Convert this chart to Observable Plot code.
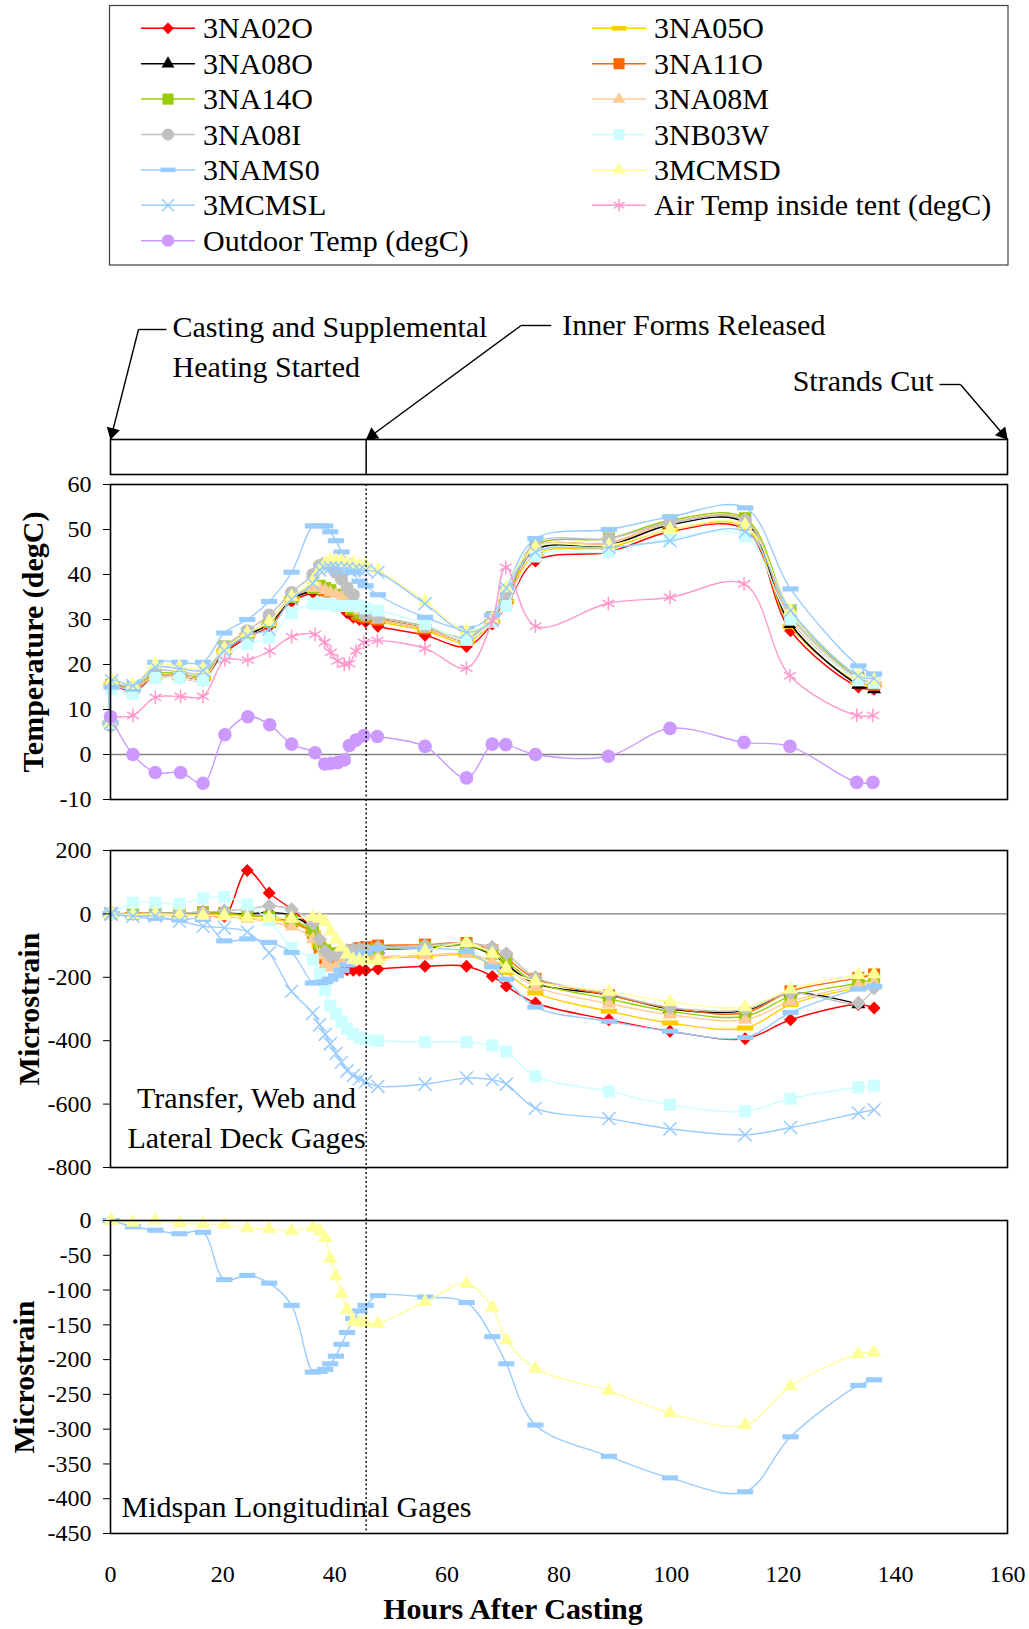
<!DOCTYPE html>
<html>
<head>
<meta charset="utf-8">
<script src="https://cdn.jsdelivr.net/npm/d3@7"></script>
<script src="https://cdn.jsdelivr.net/npm/@observablehq/plot@0.6"></script>
<style>
  html, body { margin:0; padding:0; background:#fff; }
  #root { position:relative; width:1029px; height:1629px; overflow:hidden; font-family:"Liberation Serif","Times New Roman",serif; }
  #root > svg { position:absolute; left:0; }
</style>
</head>
<body>
<div id="root"></div>
<script>
// ---------------- DATA ----------------
// gauge reading times (hours after casting)
const G_TIME = [0, 0.2, 4, 8, 12.3, 16.5, 20.3, 24.4, 28.3, 32.3, 36.1, 37.3, 38.3, 39.2, 40.2, 41.2, 42.2, 43.3, 44.4, 45.5, 47.7, 56.1, 63.5, 68.1, 70.6, 75.8, 88.9, 99.8, 113.2, 121.3, 133.4, 136.2];
// ambient reading times
const A_TIME = [0, 4, 8, 12.5, 16.5, 20.4, 24.5, 28.4, 32.3, 36.5, 38.2, 39.3, 40.5, 41.7, 42.6, 43.8, 45.2, 47.6, 56.1, 63.5, 68.1, 70.5, 75.8, 88.8, 99.8, 113, 121.2, 133.1, 136];

// temperatures (degC)
const T_3NA02O = [7, 15, 14, 17, 17, 16.5, 22.5, 26, 28.5, 34, 36, 36.5, 36, 35, 34, 33, 31.5, 30.5, 30, 29.5, 28.5, 26.5, 24, 29, 33, 43, 45, 49.5, 50, 27.5, 15, 14.5];
const T_3NA05O = [7, 15.5, 14.5, 17.5, 17.5, 17, 23, 26.5, 29, 34.5, 36.5, 36.5, 36, 35.5, 34.5, 33.5, 32.5, 31.5, 30.5, 30, 29.5, 27.5, 25, 29.5, 34, 44.5, 46, 50, 50.5, 28.5, 16, 15.5];
const T_3NA08O = [7, 15.5, 14.5, 17.5, 17.5, 17, 23, 26.5, 29, 34.5, 36.5, 37, 36.5, 35.5, 35, 34, 33, 31.5, 31, 30.5, 30, 28, 25.5, 30, 34.5, 45.5, 46.5, 51, 51.5, 29, 15.5, 14.5];
const T_3NA11O = [7, 15.5, 14.5, 17.5, 17.5, 17, 23.5, 27, 29.5, 35, 37, 37, 36.5, 36, 35, 34, 33, 32, 31, 30.5, 30, 28, 25.5, 30, 34.5, 46, 47, 51.5, 52, 30, 16.5, 15.5];
const T_3NA14O = [7, 15.5, 15, 18, 18, 17.5, 24, 27, 29.5, 35, 37, 37.5, 37, 36.5, 35.5, 34.5, 33.5, 32.5, 31.5, 31, 30.5, 28.5, 26, 30.5, 35, 46.5, 48, 52, 52.5, 32, 17, 16];
const T_3NA08M = [7, 15, 14.5, 17.5, 17.5, 17, 23.5, 27, 29.5, 35, 37, 37, 36.5, 36, 35.5, 35, 34, 33, 32, 31, 30, 28, 25.5, 30, 33.5, 46, 47, 51.5, 52, 30.5, 16.5, 15.5];
const T_3NA08I = [6.5, 15.5, 15, 18.5, 18.5, 18, 24, 27.5, 31, 36, 40, 42, 42.5, 42, 40.5, 39, 37, 35.5, 33, 31, 30.5, 28.5, 26, 30.5, 35, 47, 48, 51.5, 52, 31, 17, 16];
const T_3NB03W = [7, 14.5, 13.5, 17, 17, 16.5, 22, 24.5, 26, 31.5, 33.5, 33.5, 33.5, 33.5, 33, 33, 33, 33, 33, 32.5, 32, 29, 25.5, 29.5, 33, 44, 45, 48, 48.5, 30, 16.5, 16];
const T_3NAMS0 = [7, 15, 14.5, 20.5, 20.5, 20.5, 27, 30, 34, 40.5, 50.8, 50.8, 50.8, 49.5, 47.5, 45, 43, 40.5, 38.5, 37.5, 35.5, 30.5, 28, 31, 37, 48, 50, 52.8, 54.8, 36.8, 19.7, 17.9];
const T_3MCMSD = [7, 16.5, 15.5, 20, 19.5, 19, 23.5, 27, 29.5, 35, 38.5, 41, 42.5, 43, 43, 43, 42.5, 42.5, 42, 42, 41, 34, 27.5, 30, 37, 46, 46.5, 50, 51, 32, 17.5, 16.5];
const T_3MCMSL = [7, 16.4, 15.3, 19.4, 19.1, 18.7, 23.1, 26.4, 27.9, 34.5, 38, 41, 41.3, 41.5, 41.5, 41.3, 41.3, 41, 41, 40.9, 40.5, 33.5, 27.2, 29.8, 37, 45, 46, 47.5, 49.5, 32, 17.5, 16.9];
const T_AIR = [8.5, 8.7, 12.7, 12.9, 12.9, 21, 21, 23, 26.2, 26.7, 24.9, 22.7, 20.8, 20.1, 20.2, 23, 24.9, 25.3, 23.6, 19.2, 29.7, 41.6, 28.5, 33.6, 34.9, 37.9, 17.5, 8.7, 8.7];
const T_OUTDOOR = [8.4, 0, -4, -4, -6.4, 4.4, 8.4, 6.6, 2.3, 0.4, -2.1, -2.0, -1.8, -1.2, 2.0, 3.2, 4.2, 4.0, 1.8, -5.2, 2.3, 2.2, 0, -0.4, 5.8, 2.7, 1.8, -6.2, -6.2];

// strains (microstrain); null = no reading
const S_3NA02O = [0, 0, 0, 0, 0, 2, -8, 137, 66, 14, -49, -90, -112, -144, -160, -170, -176, -178, -178, -178, -174, -165, -165, -197, -228, -281, -334, -370, -394, -334, -286, -297];
const S_3NA05O = [0, 0, -2, -2, -3, -3, -5, -10, -15, -30, -60, -100, -130, -145, -150, -150, -150, -148, -146, -145, -140, -135, -130, -160, -185, -249, -307, -344, -360, -286, -234, -230];
const S_3NA08O = [0, 0, 0, 2, 2, 3, 3, 0, 5, -5, -50, -100, -125, -135, -130, -125, -120, -118, -116, -115, -112, -108, -100, -130, -160, -220, -255, -300, -305, -250, -285, null];
const S_3NA11O = [0, 0, 2, 3, 3, 5, 3, -5, -10, -25, -60, -110, -140, -150, -145, -135, -125, -115, -108, -105, -100, -97, -92, -115, -140, -205, -257, -297, -312, -244, -202, -191];
const S_3NA14O = [0, 0, 0, 2, 2, 3, 2, -5, -10, -20, -55, -95, -115, -125, -125, -122, -120, -118, -116, -115, -112, -105, -100, -125, -150, -215, -268, -307, -323, -260, -218, -205];
const S_3NA08M = [0, 0, -2, -3, -5, -5, -8, -15, -25, -40, -80, -130, -160, -170, -165, -155, -150, -145, -140, -138, -135, -130, -125, -150, -170, -230, -283, -318, -334, -276, -225, -215];
const S_3NA08I = [0, 0, 0, 2, 3, 5, 10, 15, 25, 14, -30, -80, -118, -134, -130, -122, -115, -112, -110, -108, -105, -100, -92, -105, -125, -200, -252, -295, -302, -249, -281, -234];
const S_3NB03W = [0, 0, 35, 35, 32, 49, 53, 30, -20, -107, -144, -190, -240, -290, -315, -340, -362, -380, -390, -397, -400, -404, -404, -415, -434, -512, -560, -602, -623, -583, -547, -542];
const S_3NAMS0 = [0, 0, -9, -14, -19, -17, -85, -79, -90, -122, -218, -217, -214, -206, -195, -178, -161, -141, -130, -122, -108, -110, -118, -167, -206, -294, -339, -370, -390, -311, -237, -229];
const S_3MCMSD = [0, 0, -3, 0, -4, -5, -6, -11, -12, -15, -10, -15, -25, -55, -80, -105, -128, -145, -146, -147, -148, -117, -91, -125, -172, -213, -245, -277, -294, -238, -192, -190];
const S_3MCMSL = [0, 0, -7, -7, -23, -39, -44, -57, -123, -244, -313, -350, -380, -410, -440, -468, -495, -510, -520, -530, -544, -537, -518, -523, -537, -613, -646, -678, -697, -674, -628, -618];

// axis ticks
const X_TICKS = [0, 20, 40, 60, 80, 100, 120, 140, 160];
const T_TICKS = [-10, 0, 10, 20, 30, 40, 50, 60];
const S2_TICKS = [-800, -600, -400, -200, 0, 200];
const S3_TICKS = [-450, -400, -350, -300, -250, -200, -150, -100, -50, 0];

// events
const EVENT_LABELS = ["Casting and Supplemental\nHeating Started", "Inner Forms Released", "Strands Cut"];
const EVENT_HOURS = [0, 45.6, 160];

// ---------------- STYLES ----------------
const DASH = { draw(ctx, size) { const s = Math.sqrt(size); const w = s * 0.95, h = s * 0.3;
  ctx.moveTo(-w, -h); ctx.lineTo(w, -h); ctx.lineTo(w, h); ctx.lineTo(-w, h); ctx.closePath(); } };

const AIR = "Air Temp inside tent (degC)", OUT = "Outdoor Temp (degC)";
const STYLE = {
  "3NA02O": {color: "#FF0000", symbol: "diamond2", r: 5.8},
  "3NA05O": {color: "#FFCC00", symbol: DASH, r: 4.8},
  "3NA08O": {color: "#000000", symbol: "triangle", r: 5.2},
  "3NA11O": {color: "#FF6600", symbol: "square", r: 6.8},
  "3NA14O": {color: "#99CC00", symbol: "square", r: 6.8},
  "3NA08M": {color: "#FFCC99", symbol: "triangle", r: 5.2},
  "3NA08I": {color: "#C0C0C0", symbol: "circle", r: 6.6},
  "3NB03W": {color: "#CCFFFF", symbol: "square", r: 6.8},
  "3NAMS0": {color: "#99CCFF", symbol: DASH, r: 4.8},
  "3MCMSD": {color: "#FFFF99", symbol: "triangle", r: 5.4},
  "3MCMSL": {color: "#99CCFF", symbol: "times", r: 6, stroked: true},
  [AIR]:    {color: "#FF99CC", symbol: "asterisk", r: 6.5, stroked: true},
  [OUT]:    {color: "#CC99FF", symbol: "circle", r: 6.8}
};
const ORDER = ["3NA02O","3NA05O","3NA08O","3NA11O","3NA14O","3NA08M","3NA08I","3NB03W","3NAMS0","3MCMSD","3MCMSL", AIR, OUT];

const TEMP = {"3NA02O":T_3NA02O,"3NA05O":T_3NA05O,"3NA08O":T_3NA08O,"3NA11O":T_3NA11O,"3NA14O":T_3NA14O,"3NA08M":T_3NA08M,"3NA08I":T_3NA08I,"3NB03W":T_3NB03W,"3NAMS0":T_3NAMS0,"3MCMSD":T_3MCMSD,"3MCMSL":T_3MCMSL};
const STRAIN = {"3NA02O":S_3NA02O,"3NA05O":S_3NA05O,"3NA08O":S_3NA08O,"3NA11O":S_3NA11O,"3NA14O":S_3NA14O,"3NA08M":S_3NA08M,"3NA08I":S_3NA08I,"3NB03W":S_3NB03W,"3NAMS0":S_3NAMS0,"3MCMSD":S_3MCMSD,"3MCMSL":S_3MCMSL};

const tempRows = [];
for (const [name, vals] of Object.entries(TEMP)) vals.forEach((v, i) => { if (v != null) tempRows.push({series: name, t: G_TIME[i], v}); });
T_AIR.forEach((v, i) => tempRows.push({series: AIR, t: A_TIME[i], v}));
T_OUTDOOR.forEach((v, i) => tempRows.push({series: OUT, t: A_TIME[i], v}));
const strainRows = [];
for (const [name, vals] of Object.entries(STRAIN)) vals.forEach((v, i) => { if (v != null) strainRows.push({series: name, t: G_TIME[i], v}); });

const FONT = "'Liberation Serif', 'Times New Roman', serif";
const W = 1029, ML = 110, MR = 22;
const root = document.getElementById("root");

function seriesMarks(rows, names, override = {}) {
  const marks = [];
  for (const name of names) {
    const st = STYLE[name];
    const d = rows.filter(r => r.series === name);
    const sym = override[name] || st.symbol;
    marks.push(Plot.line(d, {x: "t", y: "v", stroke: st.color, strokeWidth: 1.4, curve: "catmull-rom"}));
    marks.push(Plot.dot(d, st.stroked
      ? {x: "t", y: "v", symbol: sym, r: st.r, fill: "none", stroke: st.color, strokeWidth: 1.5}
      : {x: "t", y: "v", symbol: sym, r: st.r, fill: st.color, stroke: "none"}));
  }
  return marks;
}

function panel(o) {
  const marks = [];
  if (o.zero) marks.push(Plot.ruleY([0], {stroke: "#808080", strokeWidth: 1.3}));
  marks.push(...seriesMarks(o.rows, o.names, o.override));
  if (o.extra) marks.push(...o.extra);
  marks.push(Plot.ruleX([EVENT_HOURS[1]], {stroke: "#000", strokeWidth: 1.4, strokeDasharray: "2,2.5", insetTop: -o.ruleTop, insetBottom: -o.ruleBottom}));
  marks.push(Plot.frame({stroke: "#000", strokeWidth: 1.6}));
  marks.push(Plot.axisY({ticks: o.yTicks, tickSize: 7, tickPadding: 12, tickFormat: d => String(d), label: null}));
  marks.push(Plot.text([o.yLabel], {text: d => d, frameAnchor: "left", rotate: -90, dx: o.labelDx, textAnchor: "middle", lineAnchor: "middle", fontSize: 30, fontWeight: "bold"}));
  if (o.xAxis) {
    marks.push(Plot.axisX({ticks: X_TICKS, tickSize: 0, tickPadding: 31, tickFormat: d => String(d), label: null}));
    marks.push(Plot.text(["Hours After Casting"], {text: d => d, frameAnchor: "bottom", dx: -46, dy: 76, textAnchor: "middle", lineAnchor: "middle", fontSize: 30, fontWeight: "bold"}));
  }
  const svg = Plot.plot({
    width: W, height: o.height, marginLeft: ML, marginRight: MR, marginTop: o.marginTop, marginBottom: o.marginBottom,
    x: {domain: [0, 160], label: null, ...(o.xAxis ? {} : {axis: null})},
    y: {domain: o.yDomain, label: null},
    style: {fontFamily: FONT, fontSize: "24px", color: "#000", background: "transparent", overflow: "visible"},
    marks
  });
  svg.style.position = "absolute"; svg.style.left = "0px"; svg.style.top = o.top + "px";
  root.appendChild(svg);
}

// ---------------- LEGEND ----------------
const D3SYM = {diamond2: d3.symbolDiamond2, triangle: d3.symbolTriangle, square: d3.symbolSquare, circle: d3.symbolCircle, times: d3.symbolTimes, asterisk: d3.symbolAsterisk};
const legend = d3.create("svg").attr("width", W).attr("height", 270)
  .style("position", "absolute").style("left", "0px").style("top", "0px");
legend.append("rect").attr("x", 109.5).attr("y", 5.5).attr("width", 898.5).attr("height", 259.5)
  .attr("fill", "#fff").attr("stroke", "#404040").attr("stroke-width", 1.2);
ORDER.forEach((name, i) => {
  const st = STYLE[name];
  const col = i % 2, row = Math.floor(i / 2);
  const cy = 28.3 + row * 35.4;
  const x0 = col === 0 ? 141 : 592;
  const g = legend.append("g");
  g.append("line").attr("x1", x0).attr("x2", x0 + 54).attr("y1", cy).attr("y2", cy).attr("stroke", st.color).attr("stroke-width", 1.5);
  const type = typeof st.symbol === "string" ? D3SYM[st.symbol] : st.symbol;
  const lr = st.r * 0.92;
  const p = g.append("path").attr("d", d3.symbol(type, Math.PI * lr * lr)()).attr("transform", `translate(${x0 + 27},${cy})`);
  if (st.stroked) p.attr("fill", "none").attr("stroke", st.color).attr("stroke-width", 1.5);
  else p.attr("fill", st.color);
  g.append("text").attr("x", x0 + 62).attr("y", cy + 10).attr("font-family", FONT).attr("font-size", 30).attr("fill", "#000").text(name);
});
root.appendChild(legend.node());

// ---------------- ANNOTATION BAR ----------------
const HPX = (W - MR - ML) / 160;         // px per hour
const toH = px => px / HPX;
const BAR = 35;                          // px per y unit
const toY = py => 1 - py / BAR;
const ANN = [
  {elbow: [28, -110], end: [56, -110], text: [62, -95], anchor: "start"},
  {elbow: [155, -114], end: [185, -114], text: [196, -117], anchor: "start"},
  {elbow: [-47, -55], end: [-68, -55], text: [-74, -61], anchor: "end"}
];
const events = EVENT_HOURS.map((h, i) => ({hour: h, label: EVENT_LABELS[i], ...ANN[i]}));
const segs = [];
events.forEach(e => {
  segs.push({x1: e.hour, y1: 1, x2: e.hour + toH(e.elbow[0]), y2: toY(e.elbow[1])});
  segs.push({x1: e.hour + toH(e.elbow[0]), y1: toY(e.elbow[1]), x2: e.hour + toH(e.end[0]), y2: toY(e.end[1])});
});
const heads = events.map(e => {
  const L = Math.hypot(e.elbow[0], e.elbow[1]);
  const ux = -e.elbow[0] / L, uy = -e.elbow[1] / L;   // direction toward tip
  const back = 7.5;
  return {x: e.hour + toH(-ux * back), y: toY(-uy * back), rot: Math.atan2(ux, -uy) * 180 / Math.PI};
});
const annSvg = Plot.plot({
  width: W, height: 190, marginLeft: ML, marginRight: MR, marginTop: 149, marginBottom: 6,
  x: {domain: [0, 160], axis: null}, y: {domain: [0, 1], axis: null},
  style: {fontFamily: FONT, fontSize: "30px", color: "#000", background: "transparent", overflow: "visible"},
  marks: [
    Plot.frame({stroke: "#000", strokeWidth: 1.6}),
    Plot.ruleX([EVENT_HOURS[1]], {stroke: "#000", strokeWidth: 1.5}),
    Plot.link(segs, {x1: "x1", y1: "y1", x2: "x2", y2: "y2", stroke: "#000", strokeWidth: 1.4}),
    Plot.dot(heads, {x: "x", y: "y", rotate: "rot", symbol: "triangle", r: 5, fill: "#000", stroke: "none"}),
    Plot.text(events.filter(e => e.anchor === "start"), {x: e => e.hour + toH(e.text[0]), y: e => toY(e.text[1]), text: "label", textAnchor: "start", lineAnchor: "middle", lineHeight: 1.333, fontSize: 30}),
    Plot.text(events.filter(e => e.anchor === "end"), {x: e => e.hour + toH(e.text[0]), y: e => toY(e.text[1]), text: "label", textAnchor: "end", lineAnchor: "middle", lineHeight: 1.333, fontSize: 30})
  ]
});
annSvg.style.position = "absolute"; annSvg.style.left = "0px"; annSvg.style.top = "290px";
root.appendChild(annSvg);

// ---------------- PANELS ----------------
panel({top: 480, height: 350, marginTop: 4, marginBottom: 31, rows: tempRows, names: ORDER, zero: true,
  yDomain: [-10, 60], yTicks: T_TICKS, yLabel: "Temperature (degC)", labelDx: -77, ruleTop: 0, ruleBottom: 31});

panel({top: 830, height: 370, marginTop: 20, marginBottom: 33, rows: strainRows, names: ORDER.slice(0, 11), zero: true,
  override: {"3NA08I": "diamond2"},
  yDomain: [-800, 200], yTicks: S2_TICKS, yLabel: "Microstrain", labelDx: -81, ruleTop: 20, ruleBottom: 33,
  extra: [Plot.text(["Transfer, Web and\nLateral Deck Gages"], {text: d => d, frameAnchor: "bottom-left", dx: 136, dy: -52, textAnchor: "middle", lineAnchor: "middle", lineHeight: 1.333, fontSize: 30})]});

panel({top: 1200, height: 429, marginTop: 20, marginBottom: 96, rows: strainRows, names: ["3NAMS0", "3MCMSD"], zero: false,
  yDomain: [-450, 0], yTicks: S3_TICKS, yLabel: "Microstrain", labelDx: -86, ruleTop: 20, ruleBottom: 0, xAxis: true,
  extra: [Plot.text(["Midspan Longitudinal Gages"], {text: d => d, frameAnchor: "bottom-left", dx: 11, dy: -26, textAnchor: "start", lineAnchor: "middle", fontSize: 30})]});
</script>
</body>
</html>
